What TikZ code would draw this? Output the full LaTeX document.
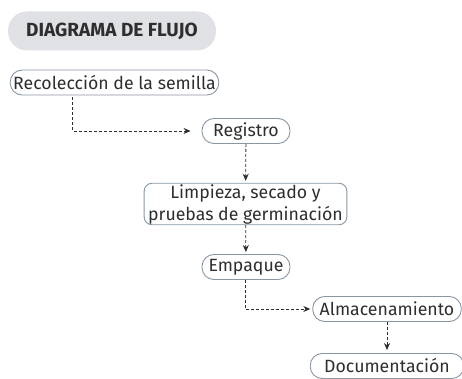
\documentclass[tikz,border=0pt]{standalone}
\usepackage{fontspec}
\setmainfont{Fira Sans}
\usetikzlibrary{arrows.meta}
\definecolor{boxline}{HTML}{8A96A3}
\definecolor{titlefill}{HTML}{DFE1E5}
\definecolor{inktext}{HTML}{2E2E2E}
\begin{document}
\begin{tikzpicture}[
  x=1pt, y=-1pt,
  box/.style={draw=boxline, line width=0.9pt, fill=white, rounded corners=12pt, align=center,
    text=inktext, font=\fontsize{17.7}{22}\selectfont, inner xsep=3pt, inner ysep=1pt,
    minimum height=25pt, minimum width=88pt},
  titlebox/.style={fill=titlefill, rounded corners=19pt, text=inktext,
    font=\fontsize{19}{20}\selectfont\bfseries, minimum width=208pt, minimum height=39pt},
  flow/.style={-{Stealth[length=7pt,width=6pt]}, dashed, dash pattern=on 3pt off 2pt,
    line width=0.8pt, inktext, shorten >=2pt}
]
\useasboundingbox (0,0) rectangle (462,379);
\clip (0,0) rectangle (462,379);
\node[titlebox] (title) at (112,31) {DIAGRAMA DE FLUJO};
\node[box] (recoleccion) at (114.5,82.5) {Recolección de la semilla};
\node[box] (registro) at (246,131) {Registro};
\node[box, rounded corners=8pt, inner xsep=4pt] (limpieza) at (245.5,204) {Limpieza, secado y\\pruebas de germinación};
\node[box] (empaque) at (246,267) {Empaque};
\node[box, inner xsep=7pt] (almacenamiento) at (387,309) {Almacenamiento};
\node[box, inner xsep=14pt] (documentacion) at (387,366) {Documentación};
\draw[flow, shorten >=11pt] ([xshift=-42pt]recoleccion.south) ++(0,2) |- (registro.west);
\draw[flow] (registro) -- (limpieza);
\draw[flow] (limpieza) -- (empaque);
\draw[flow] (empaque.south -| 245,0) |- (almacenamiento.west);
\draw[flow, shorten >=3pt] (almacenamiento) -- (documentacion);
\end{tikzpicture}
\end{document}
